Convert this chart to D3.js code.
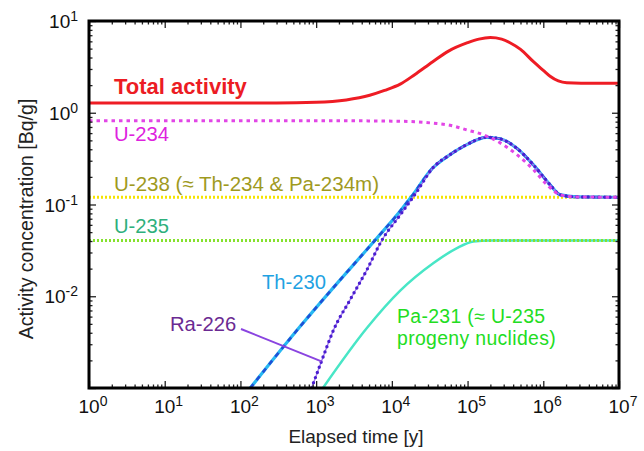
<!DOCTYPE html>
<html><head><meta charset="utf-8">
<script src="https://cdn.jsdelivr.net/npm/d3@7"></script>
<style>
html,body{margin:0;padding:0;background:#fff;}
svg{display:block;font-family:"Liberation Sans",Arial,Helvetica,sans-serif;}
</style></head>
<body><svg id="c" width="644" height="451"></svg>
<script>
// ---- data (time in years, activity in Bq/g) ----
const totalT   = [1, 300, 1000, 2500, 5100, 8000, 12900, 20000, 34700, 56000, 100000, 141000, 200000, 282000, 363000, 501000, 741000, 1000000, 1230000, 1580000, 2040000, 3160000, 10000000];
const totalA   = [1.28, 1.28, 1.30, 1.38, 1.55, 1.75, 2.05, 2.6, 3.6, 4.7, 5.8, 6.35, 6.6, 6.35, 5.8, 4.9, 3.6, 2.9, 2.5, 2.22, 2.12, 2.1, 2.1];
const u234T    = [1, 1000, 10000, 20000, 34700, 58900, 97700, 162000, 269000, 447000, 741000, 1120000, 1660000, 2750000, 10000000];
const u234A    = [0.82, 0.82, 0.81, 0.80, 0.77, 0.73, 0.65, 0.575, 0.47, 0.35, 0.24, 0.164, 0.128, 0.121, 0.12];
const u238T    = [1, 10000000];
const u238A    = [0.12, 0.12];
const u235T    = [1, 10000000];
const u235A    = [0.0405, 0.0405];
const th230T   = [135, 617, 1700, 6030, 12900, 18200, 34700, 58900, 97700, 178000, 269000, 447000, 741000, 1230000, 1660000, 2750000, 10000000];
const th230A   = [0.001, 0.0047, 0.0125, 0.041, 0.085, 0.122, 0.25, 0.35, 0.45, 0.54, 0.52, 0.41, 0.27, 0.164, 0.128, 0.121, 0.12];
const ra226T   = [871, 1175, 1700, 2820, 4680, 7410, 12900, 21400, 34700, 58900, 97700, 178000, 269000, 447000, 741000, 1230000, 1660000, 2750000, 10000000];
const ra226A   = [0.001, 0.00195, 0.0043, 0.0092, 0.0194, 0.041, 0.077, 0.138, 0.25, 0.35, 0.45, 0.54, 0.52, 0.41, 0.27, 0.164, 0.128, 0.121, 0.12];
const pa231T   = [1230, 4680, 12900, 35500, 72400, 120000, 200000, 10000000];
const pa231A   = [0.001, 0.0045, 0.0115, 0.023, 0.0335, 0.0395, 0.0405, 0.0405];
const xTickExps = [0, 1, 2, 3, 4, 5, 6, 7];
const yTickExps = [-2, -1, 0, 1];

const svg = d3.select("#c");
const L = 89, R = 619, T = 21, B = 388;
const x = d3.scaleLog().domain([1, 1e7]).range([L, R]);
const y = d3.scaleLog().domain([1e-3, 10]).range([B, T]);

svg.append("defs").append("clipPath").attr("id", "clip")
  .append("rect").attr("x", L).attr("y", T).attr("width", R - L).attr("height", B - T);

const line = d3.line().x(d => x(d[0])).y(d => y(d[1])).curve(d3.curveMonotoneX);
const zip = (a, b) => a.map((v, i) => [v, b[i]]);
const plot = svg.append("g").attr("clip-path", "url(#clip)");

function draw(pts, color, width, dash, cap) {
  plot.append("path").attr("d", line(pts)).attr("fill", "none")
    .attr("stroke", color).attr("stroke-width", width)
    .attr("stroke-dasharray", dash || null)
    .attr("stroke-linecap", cap || "butt");
}

// U-238 (yellow dotted)
draw(zip(u238T, u238A), "#f5e400", 3, "2,2");
// Pa-231 (turquoise)
draw(zip(pa231T, pa231A), "#48e6c6", 2.5);
// U-235 (green dotted)
draw(zip(u235T, u235A), "#86e22e", 3, "2,2");
// Th-230 (cyan + blue dashes)
draw(zip(th230T, th230A), "#28b8f2", 3.2);
draw(zip(th230T, th230A), "#1f4fd6", 2.6, "5,5");
// Ra-226 (purple dotted)
draw(zip(ra226T, ra226A), "#a47cf0", 1.4);
draw(zip(ra226T, ra226A), "#4a1ed0", 3.4, "0,5.5", "round");
// U-234 (magenta dotted)
draw(zip(u234T, u234A), "#e246e6", 3, "3.5,4");
// Total
draw(zip(totalT, totalA), "#ee1c24", 3);

// ---- axes (ticks inward on all four sides) ----
const majX = xTickExps.map(e => Math.pow(10, e));
const minX = x.ticks().filter(v => !majX.some(m => Math.abs(m - v) / m < 1e-9));
const majYv = [1e-3].concat(yTickExps.map(e => Math.pow(10, e)));
const minY = y.ticks().filter(v => !majYv.some(m => Math.abs(m - v) / m < 1e-9));

function ax(g, gen, vals, size) {
  g.call(gen.tickValues(vals).tickSize(size).tickFormat(""));
  g.select(".domain").remove();
  g.selectAll(".tick line").attr("stroke", "#222").attr("stroke-width", 1.3);
}
[[d3.axisBottom, B, majX, -7], [d3.axisBottom, B, minX, -3.5],
 [d3.axisTop, T, majX, -7], [d3.axisTop, T, minX, -3.5]].forEach(([f, yy, v, s]) => {
  ax(svg.append("g").attr("transform", `translate(0,${yy})`), f(x), v, s);
});
[[d3.axisLeft, L, majYv, -7], [d3.axisLeft, L, minY, -3.5],
 [d3.axisRight, R, majYv, -7], [d3.axisRight, R, minY, -3.5]].forEach(([f, xx, v, s]) => {
  ax(svg.append("g").attr("transform", `translate(${xx},0)`), f(y), v, s);
});

// frame
svg.append("rect").attr("x", L).attr("y", T).attr("width", R - L).attr("height", B - T)
  .attr("fill", "none").attr("stroke", "#000").attr("stroke-width", 3);

// tick labels
xTickExps.forEach(e => {
  const t = svg.append("text").attr("x", x(Math.pow(10, e)) - 10.5).attr("y", 413)
    .attr("font-size", 19).attr("fill", "#111");
  t.append("tspan").text("10");
  t.append("tspan").attr("dy", -7).attr("font-size", 14).text(e);
});
yTickExps.forEach(e => {
  const t = svg.append("text").attr("x", 78).attr("y", y(Math.pow(10, e)) + 7)
    .attr("font-size", 19).attr("fill", "#111").attr("text-anchor", "end");
  t.append("tspan").text("10");
  t.append("tspan").attr("dy", -7).attr("font-size", 14).text(e);
});

// axis titles
svg.append("text").attr("x", 356).attr("y", 443).attr("text-anchor", "middle")
  .attr("font-size", 19).attr("fill", "#222").text("Elapsed time [y]");
svg.append("text").attr("transform", "translate(33,219) rotate(-90)").attr("text-anchor", "middle")
  .attr("font-size", 19.5).attr("fill", "#222").text("Activity concentration [Bq/g]");

// series labels
function lab(txt, xx, yy, color, size, weight, ls) {
  svg.append("text").attr("x", xx).attr("y", yy).attr("fill", color)
    .attr("font-size", size).attr("font-weight", weight || "normal")
    .attr("letter-spacing", ls || null).text(txt);
}
lab("Total activity", 114, 94, "#ec1c24", 22, "bold");
lab("U-234", 114, 141, "#de22de", 20.2);
lab("U-238 (≈ Th-234 & Pa-234m)", 114, 191, "#9f9a1e", 20.5);
lab("U-235", 114, 233, "#2eb07c", 20.2);
lab("Th-230", 262, 289, "#1fa2e2", 20.2);
lab("Ra-226", 170, 331, "#6b2a92", 20.2);
lab("Pa-231 (≈ U-235", 397, 322.5, "#22dd22", 19.4, "normal", 0.35);
lab("progeny nuclides)", 397, 344.5, "#22dd22", 19.4, "normal", 0.35);
// Ra-226 leader line
svg.append("line").attr("x1", 241).attr("y1", 329).attr("x2", x(1175)).attr("y2", y(0.00195))
  .attr("stroke", "#8a44e0").attr("stroke-width", 2);
</script></body></html>
